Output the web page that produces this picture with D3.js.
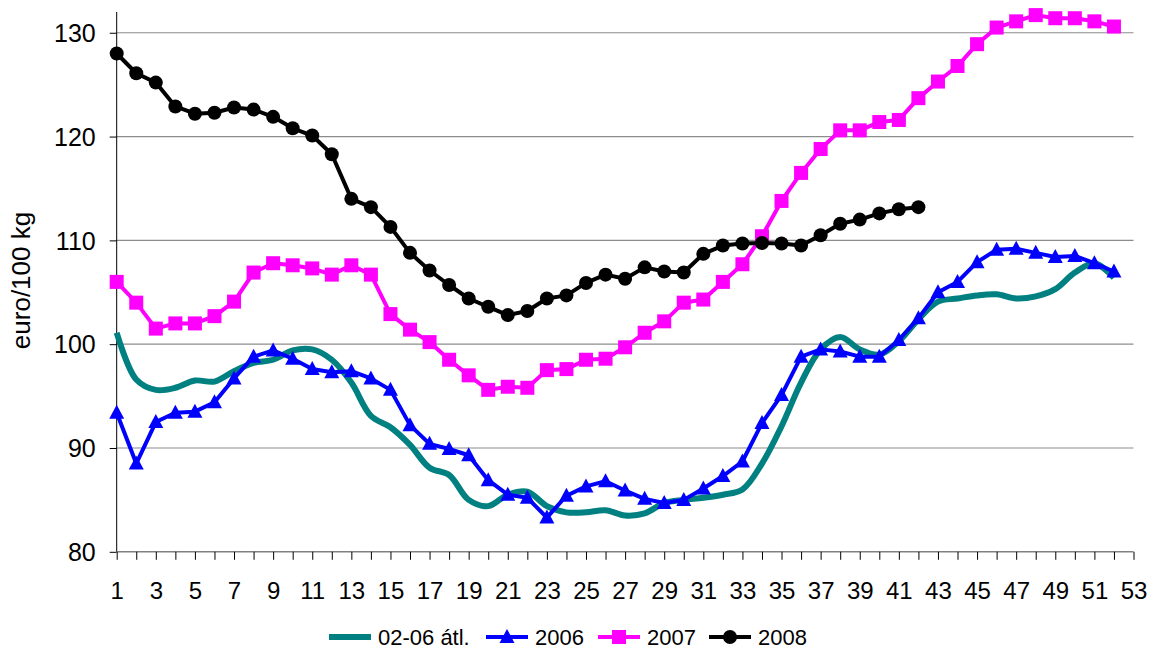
<!DOCTYPE html>
<html>
<head>
<meta charset="utf-8">
<script src="https://cdn.jsdelivr.net/npm/d3@7"></script>
<style>
  body { margin: 0; background: #fff; }
  svg text { font-family: "Liberation Sans", Arial, sans-serif; fill: #000; }
</style>
</head>
<body>
<svg id="chart" width="1153" height="653"></svg>
<script>
// Weeks 1..53 on the category axis
var weeks = d3.range(1, 54);
var yTicks = [80, 90, 100, 110, 120, 130];

// 02-06 átl. (smoothed average), weeks 1-52
var avg0206 = [101.1, 96.6, 95.6, 95.8, 96.5, 96.4, 97.4, 98.2, 98.5, 99.4,
  99.5, 98.5, 96.3, 93.1, 92.0, 90.3, 88.1, 87.4, 85.0, 84.4,
  85.5, 85.8, 84.4, 83.8, 83.8, 84.0, 83.5, 83.7, 84.7, 85.0,
  85.2, 85.5, 86.0, 88.5, 92.1, 96.3, 99.5, 100.7, 99.5, 99.0,
  100.3, 102.4, 104.1, 104.4, 104.7, 104.8, 104.4, 104.6, 105.3, 106.9,
  107.8, 106.4];
var s2006 = [93.4, 88.5, 92.5, 93.4, 93.5, 94.4, 96.7, 98.8, 99.4, 98.6,
  97.6, 97.3, 97.4, 96.7, 95.6, 92.2, 90.4, 89.9, 89.3, 86.9,
  85.5, 85.2, 83.3, 85.4, 86.3, 86.8, 85.9, 85.1, 84.7, 85.0,
  86.1, 87.3, 88.7, 92.4, 95.1, 98.8, 99.5, 99.3, 98.8, 98.8,
  100.4, 102.5, 105.0, 106.0, 107.9, 109.1, 109.2, 108.8, 108.4, 108.5,
  107.8, 107.0];
var s2007 = [106.0, 104.0, 101.5, 102.0, 102.0, 102.7, 104.1, 106.9, 107.8, 107.6,
  107.3, 106.7, 107.6, 106.7, 102.9, 101.4, 100.2, 98.5, 97.0, 95.6,
  95.9, 95.8, 97.5, 97.6, 98.5, 98.6, 99.7, 101.1, 102.2, 104.0,
  104.3, 106.0, 107.7, 110.4, 113.8, 116.5, 118.8, 120.6, 120.6, 121.4,
  121.6, 123.7, 125.3, 126.8, 128.9, 130.5, 131.1, 131.7, 131.4, 131.4,
  131.1, 130.6];
var s2008 = [128.0, 126.1, 125.2, 122.9, 122.2, 122.3, 122.8, 122.6, 121.9, 120.8,
  120.1, 118.3, 114.0, 113.2, 111.3, 108.8, 107.1, 105.7, 104.4, 103.6,
  102.8, 103.2, 104.4, 104.7, 105.9, 106.7, 106.3, 107.4, 107.0, 106.9,
  108.7, 109.5, 109.7, 109.75, 109.7, 109.5, 110.5, 111.6, 112.0, 112.6,
  113.0, 113.2];

var seriesNames = ["02-06 átl.", "2006", "2007", "2008"];

var series = [
  { name: seriesNames[0], values: avg0206, color: "#008080", width: 6, marker: null, smooth: true },
  { name: seriesNames[1], values: s2006, color: "#0000FF", width: 4, marker: "triangle" },
  { name: seriesNames[2], values: s2007, color: "#FF00FF", width: 4, marker: "square" },
  { name: seriesNames[3], values: s2008, color: "#000000", width: 4, marker: "circle" }
];

var svg = d3.select("#chart");
var plotLeft = 116.7, plotRight = 1133.5, plotTop = 12, plotBottom = 551.8;

var x = d3.scalePoint().domain(weeks).range([plotLeft, plotRight]);
var y = d3.scaleLinear().domain([80, 132]).range([plotBottom, plotTop]);

// Gridlines
svg.append("g")
  .selectAll("line")
  .data(yTicks.slice(1))
  .enter().append("line")
  .attr("x1", plotLeft).attr("x2", plotRight)
  .attr("y1", function (d) { return y(d); })
  .attr("y2", function (d) { return y(d); })
  .attr("stroke", "#8c8c8c")
  .attr("stroke-width", 1.2);

// Y axis
var yAxis = svg.append("g")
  .attr("transform", "translate(" + plotLeft + ",0)")
  .call(d3.axisLeft(y).tickValues(yTicks).tickSize(7).tickPadding(14));
yAxis.select(".domain").remove();
yAxis.selectAll(".tick line").attr("stroke", "#000");
yAxis.selectAll("text").style("font-size", "25px").attr("dy", "0.35em");
svg.append("line")
  .attr("x1", plotLeft).attr("x2", plotLeft)
  .attr("y1", plotTop).attr("y2", plotBottom)
  .attr("stroke", "#000").attr("stroke-width", 1);

// X axis
var xAxis = svg.append("g")
  .attr("transform", "translate(0," + plotBottom + ")")
  .call(d3.axisBottom(x).tickSize(8).tickPadding(22)
    .tickFormat(function (d) { return d % 2 === 1 ? d : ""; }));
xAxis.select(".domain").attr("stroke", "#808080").attr("stroke-width", 1.5)
  .attr("d", "M" + plotLeft + ",0H" + plotRight);
xAxis.selectAll(".tick line").attr("stroke", "#000");
xAxis.selectAll("text").style("font-size", "24px");

// Y axis title
svg.append("text")
  .attr("transform", "translate(29.5,280.5) rotate(-90)")
  .attr("text-anchor", "middle")
  .style("font-size", "26px")
  .text("euro/100 kg");

function drawMarker(g, type, color, cx, cy) {
  if (type === "triangle") {
    g.append("path")
      .attr("d", "M" + cx + "," + (cy - 8) + "L" + (cx + 7.5) + "," + (cy + 6) + "L" + (cx - 7.5) + "," + (cy + 6) + "Z")
      .attr("fill", color);
  } else if (type === "square") {
    g.append("rect")
      .attr("x", cx - 7).attr("y", cy - 7)
      .attr("width", 14).attr("height", 14)
      .attr("fill", color);
  } else if (type === "circle") {
    g.append("circle")
      .attr("cx", cx).attr("cy", cy).attr("r", 7)
      .attr("fill", color);
  }
}

// Series
series.forEach(function (s) {
  var line = d3.line()
    .x(function (d, i) { return x(weeks[i]); })
    .y(function (d) { return y(d); })
    .curve(s.smooth ? d3.curveCatmullRom.alpha(0.5) : d3.curveLinear);
  var g = svg.append("g");
  g.append("path")
    .datum(s.values)
    .attr("d", line)
    .attr("fill", "none")
    .attr("stroke", s.color)
    .attr("stroke-width", s.width)
    .attr("stroke-linejoin", "round");
  if (s.marker) {
    s.values.forEach(function (v, i) {
      drawMarker(g, s.marker, s.color, x(weeks[i]), y(v));
    });
  }
});

// Legend
var legendX = [329, 486, 598, 709];
var legend = svg.append("g");
series.forEach(function (s, i) {
  var lx = legendX[i], ly = 637;
  legend.append("line")
    .attr("x1", lx).attr("x2", lx + 42)
    .attr("y1", ly).attr("y2", ly)
    .attr("stroke", s.color)
    .attr("stroke-width", s.marker ? 4 : 6);
  if (s.marker) drawMarker(legend, s.marker, s.color, lx + 21, ly);
  legend.append("text")
    .attr("x", lx + 49).attr("y", ly + 8)
    .style("font-size", "22px")
    .text(s.name);
});
</script>
</body>
</html>
